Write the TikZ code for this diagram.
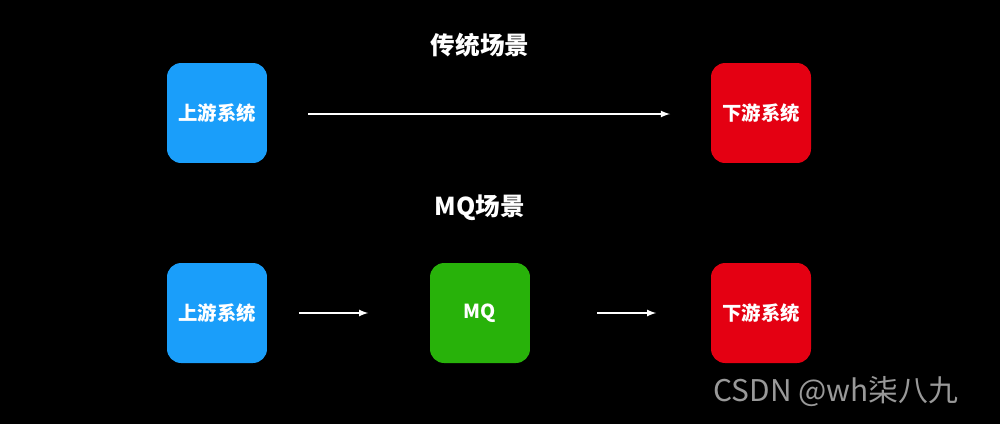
\documentclass[tikz,border=0pt]{standalone}
\usepackage{fontspec}
\setmainfont{Noto Sans CJK SC}
\usetikzlibrary{positioning}
\definecolor{upblue}{RGB}{26,158,250}
\definecolor{downred}{RGB}{228,0,18}
\definecolor{mqgreen}{RGB}{40,178,10}
\tikzset{
  sysbox/.style={minimum size=2cm,rounded corners=8pt,text=white,font=\bfseries\fontsize{11}{13}\selectfont,inner sep=0pt},
  flow/.style={draw=white,thick,-latex},
  heading/.style={text=white,font=\bfseries\fontsize{14}{16}\selectfont}
}
\begin{document}
\begin{tikzpicture}[x=0.02cm,y=-0.02cm]
  \fill[black] (0,0) rectangle (1000,424);
  \useasboundingbox (0,0) rectangle (1000,424);
  % traditional
  \node[heading] (title1) at (480,45) {传统场景};
  \node[sysbox,fill=upblue] (up1) at (217,113) {上游系统};
  \node[sysbox,fill=downred] (down1) at (761,113) {下游系统};
  \coordinate (a1) at (308,114);
  \coordinate (b1) at (670,114);
  \draw[flow] (a1) -- (b1);
  % mq
  \node[heading] (title2) at (480,208) {MQ场景};
  \node[sysbox,fill=upblue] (up2) at (217,313) {上游系统};
  \node[sysbox,fill=mqgreen] (mq) at (480,313) {MQ};
  \node[sysbox,fill=downred] (down2) at (761,313) {下游系统};
  \draw[flow] ([xshift=18pt]up2.east) -- ([xshift=-35pt]mq.west);
  \draw[flow] ([xshift=38pt]mq.east) -- ([xshift=-31pt]down2.west);
  \node[text=gray!80,font=\fontsize{17}{19}\selectfont] (mark) at (836,392) {CSDN @wh柒八九};
\end{tikzpicture}
\end{document}
